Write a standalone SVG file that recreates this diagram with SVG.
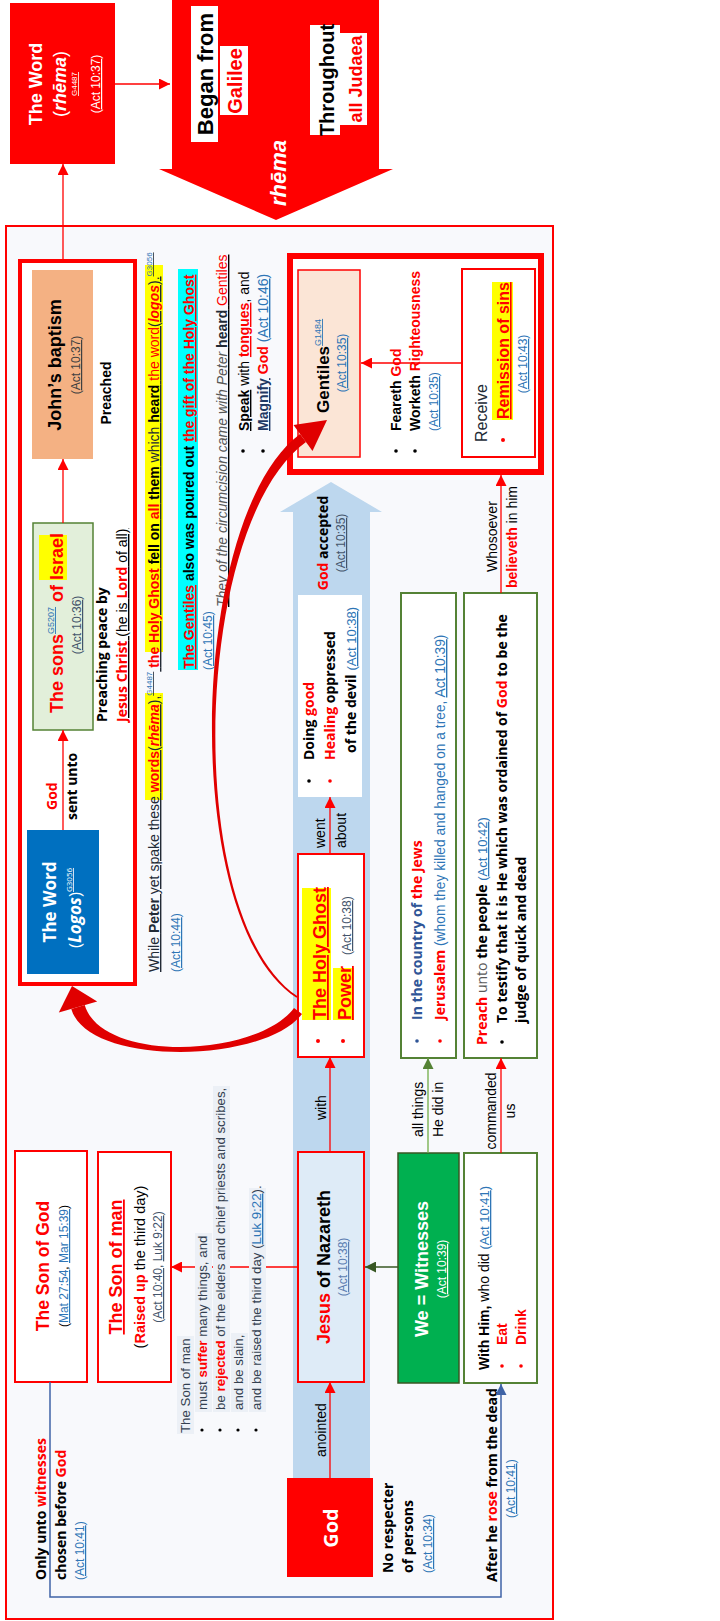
<svg xmlns="http://www.w3.org/2000/svg" width="720" height="1621" viewBox="0 0 720 1621">
<defs>
<style>
.S{font-family:"Open Sans","Liberation Sans",sans-serif}
.b{font-weight:700}
.it{font-style:italic}
.r{fill:#FF0000}
.w{fill:#FFFFFF}
.k{fill:#000000}
.nv{fill:#222A35}
.gr{fill:#595959}
.bl{fill:#2F5597}
.ref{fill:#2E75B6}
.u{text-decoration:underline}
.m{text-anchor:middle}
.sm{font-size:12px}
.box{stroke:#FF0000;stroke-width:2}
.gbox{fill:#FFFFFF;stroke:#548235;stroke-width:2}
.hl{fill:#FFFF00}
.tbg{fill:#ECF0F6}
</style>
<marker id="mr" viewBox="0 0 10 10" refX="10" refY="5" markerWidth="11" markerHeight="11" markerUnits="userSpaceOnUse" orient="auto"><path d="M0,0L10,5L0,10Z" fill="#FF0000"/></marker>
<marker id="mg" viewBox="0 0 10 10" refX="10" refY="5" markerWidth="11" markerHeight="11" markerUnits="userSpaceOnUse" orient="auto"><path d="M0,0L10,5L0,10Z" fill="#548235"/></marker>
<marker id="mdg" viewBox="0 0 10 10" refX="10" refY="5" markerWidth="11" markerHeight="11" markerUnits="userSpaceOnUse" orient="auto"><path d="M0,0L10,5L0,10Z" fill="#385723"/></marker>
<marker id="mb" viewBox="0 0 10 10" refX="10" refY="5" markerWidth="11" markerHeight="11" markerUnits="userSpaceOnUse" orient="auto"><path d="M0,0L10,5L0,10Z" fill="#3F63A6"/></marker>
</defs>
<rect x="0" y="0" width="720" height="1621" fill="#FFFFFF"/>
<g transform="translate(0,1621) rotate(-90)" font-family="Liberation Sans, Arial, sans-serif" font-size="14">

<!-- top rhema word box -->
<g id="rhema-word">
<rect x="1457" y="10" width="161" height="105" fill="#FF0000"/>
<text x="1537" y="42" class="b w m" font-size="18">The Word</text>
<text x="1537" y="66" class="w m" font-size="18">(<tspan class="b it">rhēma</tspan>)</text>
<text x="1537" y="77" class="w m u" font-size="8">G4487</text>
<text x="1537" y="100" class="w m sm">(<tspan class="u">Act 10:37</tspan>)</text>
</g>

<!-- big red arrow -->
<g id="rhema-arrow">
<polygon points="1621,172 1452,172 1452,159 1401,276 1452,393 1452,379 1621,379" fill="#FF0000"/>
<rect x="1479" y="191" width="136" height="27" fill="#FFFFFF"/>
<text x="1547" y="213" class="b k m" font-size="22">Began from</text>
<rect x="1506" y="220" width="69" height="28" fill="#FFFFFF"/>
<text x="1540" y="242" class="b r m" font-size="20">Galilee</text>
<rect x="1486" y="310" width="110" height="30" fill="#FFFFFF"/>
<text x="1541" y="334" class="b k m" font-size="20">Throughout</text>
<rect x="1496" y="340" width="92" height="27" fill="#FFFFFF"/>
<text x="1542" y="362" class="b r m" font-size="18">all Judaea</text>
<text x="1448" y="286" class="b it w m" font-size="22">rhēma</text>
</g>

<!-- main frame -->
<rect id="frame" x="2" y="6" width="1393" height="547" fill="#F8F9FC" stroke="#FF0000" stroke-width="2"/>

<!-- blue big arrow -->
<polygon id="blue-arrow" points="143,293 1109,293 1109,280 1139,331 1109,382 1109,370 143,370" fill="#BDD7EE"/>

<!-- Logos frame -->
<g id="logos-frame">
<rect x="637" y="20" width="723" height="115" fill="#FFFFFF" stroke="#FF0000" stroke-width="4"/>
</g>

<g id="johns-baptism">
<rect x="1162" y="32" width="189" height="61" fill="#F4B183"/>
<text x="1256" y="61" class="b m" font-size="18">John’s baptism</text>
<text x="1256" y="80" class="m sm" fill="#404040">(<tspan class="u">Act 10:37</tspan>)</text>
<text x="1228" y="111" class="b m">Preached</text>
</g>

<g id="sons-israel">
<rect x="891" y="33" width="207" height="60" fill="#E2EFDA" stroke="#548235" stroke-width="1.5"/>
<rect x="1041" y="39" width="45" height="28" class="hl"/>
<text x="908" y="63" class="b r" font-size="18">The sons<tspan class="ref u" font-size="9" font-weight="400" dy="-9">G5207</tspan><tspan dy="9"> of </tspan><tspan>Israel</tspan></text>
<text x="996" y="81" class="m sm" fill="#44546A">(<tspan class="u">Act 10:36</tspan>)</text>
</g>

<g id="preaching-peace">
<text x="899" y="107" class="S b">Preaching peace by</text>
<text x="899" y="127" class="u"><tspan class="S b r">Jesus Christ</tspan> (he is <tspan class="S b r">Lord</tspan> of all)</text>
</g>

<g id="logos-word">
<rect x="647" y="27" width="144" height="72" fill="#0070C0"/>
<text x="719" y="56" class="S b w m" font-size="17">The Word</text>
<text x="713" y="81" class="S w m" font-size="17">(<tspan class="b it">Logos</tspan>)<tspan class="u" font-size="8" dy="-9">G3056</tspan></text>
</g>

<g id="peter-text">
<rect x="821" y="145" width="107" height="18" class="hl"/>
<rect x="969" y="145" width="387" height="18" class="hl"/>
<text x="649" y="159" class="u nv">While <tspan class="b">Peter</tspan> yet spake these <tspan class="b r">words</tspan>(<tspan class="b it r">rhēma</tspan>),<tspan class="ref" font-size="8" dy="-7">G4487</tspan><tspan dy="7"> </tspan><tspan class="b r">the Holy Ghost</tspan><tspan class="b k"> fell on </tspan><tspan class="b r">all</tspan><tspan class="b k"> them</tspan> which <tspan class="b k">heard</tspan> <tspan class="r">the word</tspan>(<tspan class="b it r">logos</tspan>).<tspan class="ref" font-size="8" dy="-7">G3056</tspan></text>
<text x="649" y="180" class="sm ref">(<tspan class="u">Act 10:44</tspan>)</text>
<rect x="951" y="178" width="401" height="20" fill="#00FFFF"/>
<text x="952" y="194" class="b"><tspan class="r u">The Gentiles</tspan> also was poured out <tspan class="r u">the gift of the Holy Ghost</tspan></text>
<text x="951" y="212" class="sm ref">(<tspan class="u">Act 10:45</tspan>)</text>
<text x="1014" y="227" class="u"><tspan class="it gr">They of the circumcision came with Peter </tspan><tspan class="b nv">heard</tspan> <tspan class="r">Gentiles</tspan></text>
<circle cx="1170" cy="243" r="1.8"/>
<text x="1190" y="249"><tspan class="b u">Speak</tspan> with <tspan class="b r u">tongues</tspan>, and</text>
<circle cx="1170" cy="263" r="1.8"/>
<text x="1190" y="268"><tspan class="b u" fill="#1F3864">Magnify</tspan> <tspan class="b r">God</tspan> <tspan class="ref">(<tspan class="u">Act 10:46</tspan>)</tspan></text>
</g>

<g id="gentiles-frame">
<rect x="1149" y="290" width="216" height="251" fill="#FFFFFF" stroke="#FF0000" stroke-width="6"/>
</g>

<g id="gentiles">
<rect x="1164" y="298" width="187" height="62" fill="#FBE5D6" stroke="#FF0000" stroke-width="1.5"/>
<text x="1208" y="329" class="b" font-size="17">Gentiles<tspan class="ref u" font-size="9" font-weight="400" dy="-8">G1484</tspan></text>
<text x="1258" y="346" class="m sm ref">(<tspan class="u">Act 10:35</tspan>)</text>
</g>

<g id="feareth">
<rect x="1185" y="384" width="170" height="40" fill="#FFFFFF"/>
<circle cx="1170" cy="396" r="1.8"/>
<circle cx="1170" cy="415" r="1.8"/>
<text x="1190" y="401" class="b">Feareth <tspan class="r">God</tspan></text>
<text x="1190" y="420" class="b">Worketh <tspan class="r">Righteousness</tspan></text>
<text x="1190" y="438" class="sm ref">(<tspan class="u">Act 10:35</tspan>)</text>
</g>

<g id="receive">
<rect x="1164" y="462" width="188" height="73" fill="#FFFFFF" class="box"/>
<text x="1179" y="487" font-size="16" class="nv">Receive</text>
<circle cx="1181" cy="503" r="2" class="r"/>
<rect x="1201" y="492" width="138" height="21" class="hl"/>
<text x="1202" y="509" font-size="16" class="b r u">Remission of sins</text>
<text x="1257" y="527" class="m sm ref">(<tspan class="u">Act 10:43</tspan>)</text>
</g>

<g id="god-accepted">
<text x="1078" y="328" class="S b m"><tspan class="r">God</tspan> accepted</text>
<text x="1078" y="345" class="m sm" fill="#44546A">(<tspan class="u">Act 10:35</tspan>)</text>
</g>

<g id="doing-good">
<rect x="824" y="298" width="202" height="64" fill="#FFFFFF"/>
<circle cx="840" cy="309" r="1.8"/>
<circle cx="840" cy="330" r="1.8" class="r"/>
<text x="861" y="314" class="S b">Doing <tspan class="r">good</tspan></text>
<text x="861" y="335" class="S b"><tspan class="r">Healing</tspan> oppressed</text>
<text x="868" y="356"><tspan class="S b">of the devil</tspan> <tspan class="ref" font-size="13">(<tspan class="u">Act 10:38</tspan>)</tspan></text>
</g>

<g id="holy-ghost">
<rect x="564" y="298" width="203" height="66" fill="#FFFFFF" class="box"/>
<circle cx="580" cy="318" r="2" class="r"/>
<circle cx="580" cy="343" r="2" class="r"/>
<rect x="601" y="302" width="132" height="29" class="hl"/>
<rect x="601" y="333" width="52" height="21" class="hl"/>
<text x="601" y="326" font-size="18" class="b r u">The Holy Ghost</text>
<text x="601" y="351" font-size="18" class="b r u">Power</text>
<text x="666" y="351" class="sm" fill="#44546A">(<tspan class="u">Act 10:38</tspan>)</text>
</g>

<g id="jesus">
<rect x="239" y="298" width="230" height="66" fill="#DEEBF7" class="box"/>
<text x="354" y="330" font-size="18" class="b m"><tspan class="r">Jesus</tspan> of Nazareth</text>
<text x="354" y="347" class="m sm" fill="#5B7DB1">(<tspan class="u">Act 10:38</tspan>)</text>
</g>

<g id="god">
<rect x="44" y="287" width="99" height="86" fill="#FF0000"/>
<text x="93" y="338" class="S b w m" font-size="20">God</text>
</g>

<g id="no-respecter">
<text x="48" y="393" class="S b">No respecter</text>
<text x="48" y="413" class="S b">of persons</text>
<text x="48" y="432" class="sm ref">(<tspan class="u">Act 10:34</tspan>)</text>
</g>

<g id="witnesses">
<rect x="238" y="398" width="230" height="61" fill="#00B050" stroke="#385723" stroke-width="1.5"/>
<text x="352" y="428" font-size="18" class="b w m">We = Witnesses</text>
<text x="352" y="446" class="m sm w">(<tspan class="u">Act 10:39</tspan>)</text>
</g>

<g id="country">
<rect x="563" y="401" width="465" height="55" class="gbox"/>
<circle cx="580" cy="417" r="1.8" class="bl"/>
<circle cx="580" cy="440" r="1.8" class="r"/>
<text x="601" y="422" class="S b bl">In the country of <tspan class="r">the Jews</tspan></text>
<text x="601" y="445"><tspan class="S b r">Jerusalem</tspan><tspan class="ref" font-size="13.8"> (whom they killed and hanged on a tree, <tspan class="u">Act 10:39</tspan>)</tspan></text>
</g>

<g id="preach">
<rect x="563" y="464" width="465" height="73" class="gbox"/>
<text x="576" y="487" class="S"><tspan class="b r">Preach</tspan><tspan class="gr"> unto </tspan><tspan class="b">the people</tspan> <tspan class="ref" font-size="13" font-family="Liberation Sans, Arial, sans-serif">(<tspan class="u">Act 10:42</tspan>)</tspan></text>
<circle cx="579" cy="502" r="1.8"/>
<text x="598" y="507" class="S b">To testify that it is He which was ordained of <tspan class="r">God</tspan> to be the</text>
<text x="598" y="526" class="S b">judge of quick and dead</text>
</g>

<g id="with-him">
<rect x="238" y="464" width="230" height="73" class="gbox"/>
<text x="251" y="489"><tspan class="b">With Him,</tspan> who did <tspan class="ref" font-size="13">(<tspan class="u">Act 10:41</tspan>)</tspan></text>
<circle cx="255" cy="502" r="1.8" class="r"/>
<circle cx="255" cy="521" r="1.8" class="r"/>
<text x="276" y="507" class="b r">Eat</text>
<text x="276" y="526" class="b r">Drink</text>
</g>

<g id="son-of-god">
<rect x="239" y="15" width="231" height="72" fill="#FFFFFF" class="box"/>
<text x="355" y="49" font-size="17.5" class="b r m">The Son of God</text>
<text x="355" y="68" class="m sm">(<tspan class="ref u">Mat 27:54</tspan>, <tspan class="ref u">Mar 15:39</tspan>)</text>
</g>

<g id="son-of-man">
<rect x="239" y="98" width="230" height="73" fill="#FFFFFF" class="box"/>
<text x="354" y="122" font-size="18" class="b r m u">The Son of man</text>
<text x="354" y="145" font-size="14.5" class="m">(<tspan class="b r">Raised up</tspan> the third day)</text>
<text x="354" y="162" class="m sm" fill="#44546A">(<tspan class="u">Act 10:40</tspan>, <tspan class="u">Luk 9:22</tspan>)</text>
</g>

<g id="only-unto">
<text x="41" y="46" class="S b">Only unto <tspan class="r">witnesses</tspan></text>
<text x="41" y="66" class="S b">chosen before <tspan class="r">God</tspan></text>
<text x="41" y="84" class="sm ref">(<tspan class="u">Act 10:41</tspan>)</text>
<text x="39" y="497" class="S b">After he <tspan class="r">rose</tspan> from the dead</text>
<text x="103" y="515" class="sm ref">(<tspan class="u">Act 10:41</tspan>)</text>
</g>

<!-- connectors -->
<g id="connectors" fill="none" stroke-width="1.3">
<line x1="1537" y1="115" x2="1537" y2="170" stroke="#FF0000" marker-end="url(#mr)"/>
<line x1="1362" y1="63" x2="1457" y2="63" stroke="#FF0000" marker-end="url(#mr)"/>
<line x1="1098" y1="63" x2="1162" y2="63" stroke="#FF0000" marker-end="url(#mr)"/>
<line x1="791" y1="63" x2="891" y2="63" stroke="#FF0000" marker-end="url(#mr)"/>
<line x1="1258" y1="462" x2="1258" y2="361" stroke="#FF0000" marker-end="url(#mr)"/>
<line x1="1028" y1="501" x2="1146" y2="501" stroke="#FF0000" marker-end="url(#mr)"/>
<line x1="767" y1="330" x2="824" y2="330" stroke="#FF0000" marker-end="url(#mr)"/>
<line x1="469" y1="330" x2="564" y2="330" stroke="#FF0000" marker-end="url(#mr)"/>
<line x1="143" y1="330" x2="239" y2="330" stroke="#FF0000" marker-end="url(#mr)"/>
<line x1="354" y1="398" x2="354" y2="365" stroke="#385723" marker-end="url(#mdg)"/>
<line x1="468" y1="428" x2="563" y2="428" stroke="#70AD47" marker-end="url(#mg)"/>
<line x1="468" y1="501" x2="563" y2="501" stroke="#FF0000" marker-end="url(#mr)"/>
<line x1="354" y1="298" x2="354" y2="171" stroke="#FF0000" marker-end="url(#mr)"/>
<polyline points="239,50 24,50 24,501 237,501" stroke="#3F63A6" stroke-width="1.5" marker-end="url(#mb)"/>
</g>

<!-- connector labels -->
<g id="labels">
<text x="811" y="57" class="S b r">God</text>
<text x="801" y="77" class="S b">sent unto</text>
<text x="1049" y="497">Whosoever</text>
<text x="1033" y="517"><tspan class="b r">believeth</tspan> in him</text>
<text x="773" y="325">went</text>
<text x="773" y="346">about</text>
<text x="501" y="326">with</text>
<text x="164" y="326">anointed</text>
<text x="484" y="423">all things</text>
<text x="484" y="443">He did in</text>
<text x="510" y="496" class="m">commanded</text>
<text x="510" y="515" class="m">us</text>
</g>

<!-- Son of man text block -->
<g id="son-of-man-text" font-size="13.3" fill="#333F50">
<rect x="187" y="177" width="98" height="17" class="tbg"/>
<rect x="209" y="195" width="179" height="17" class="tbg"/>
<rect x="209" y="213" width="326" height="17" class="tbg"/>
<rect x="209" y="231" width="79" height="17" class="tbg"/>
<rect x="209" y="249" width="224" height="17" class="tbg"/>
<text x="188" y="190">The Son of man</text>
<circle cx="191" cy="202" r="1.6" fill="#000"/>
<circle cx="191" cy="220" r="1.6" fill="#000"/>
<circle cx="191" cy="238" r="1.6" fill="#000"/>
<circle cx="191" cy="256" r="1.6" fill="#000"/>
<text x="211" y="207">must <tspan class="b r">suffer</tspan> many things, and</text>
<text x="211" y="225">be <tspan class="b r">rejected</tspan> of the elders and chief priests and scribes,</text>
<text x="211" y="243">and be slain,</text>
<text x="211" y="261">and be raised the third day (<tspan class="ref u">Luk 9:22</tspan>).</text>
</g>

<!-- big curved arrows -->
<g id="curve-to-logos" fill="#E00000">
<path d="M613,294 C563,256 558,101.7 616,84.7 L612,71.3 C554,88.3 557,264 607,302 Z"/>
<polygon points="635,72 619.6,97.2 608.4,58.8"/>
</g>
<g id="curve-to-gentiles" fill="#E00000">
<path d="M624.8,297.5 C701.7,181.1 1096.8,192.4 1179,306 L1187,300 C1103.2,187.6 698.3,178.9 623.2,296.5 Z"/>
<polygon points="1201,327 1170,312.5 1196,293.5"/>
</g>

</g>
</svg>
